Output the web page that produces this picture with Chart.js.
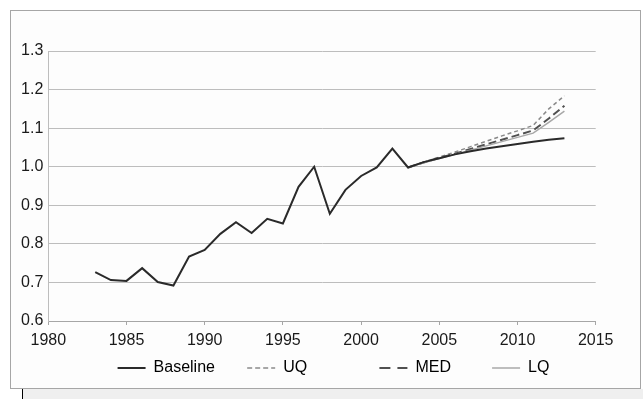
<!DOCTYPE html>
<html lang="en">
<head>
  <meta charset="UTF-8">
  <title>Baseline and projections</title>
  <style>
    html, body {
      margin: 0;
      padding: 0;
      background: #ffffff;
      width: 643px;
      height: 399px;
      overflow: hidden;
      position: relative;
    }
    .frame {
      position: absolute;
      left: 10px;
      top: 10px;
      width: 629px;
      height: 377px;
      border: 1px solid #a6a6a6;
      background: #fdfdfd;
    }
    .strip {
      position: absolute;
      left: 22px;
      top: 389px;
      width: 621px;
      height: 10px;
      background: #efefef;
      border-left: 1px solid #000;
    }
    canvas {
      display: block;
    }
  </style>
</head>
<body>
  <div class="frame">
    <canvas id="chart" width="629" height="377"></canvas>
  </div>
  <div class="strip"></div>

  <script src="https://cdn.jsdelivr.net/npm/chart.js"></script>
  <script>
    // values
    const baselineYears = [1983, 1984, 1985, 1986, 1987, 1988, 1989, 1990, 1991, 1992,
      1993, 1994, 1995, 1996, 1997, 1998, 1999, 2000, 2001, 2002,
      2003, 2004, 2005, 2006, 2007, 2008, 2009, 2010, 2011, 2012, 2013];
    const baseline = [0.727, 0.706, 0.704, 0.737, 0.701, 0.692, 0.767, 0.784, 0.826, 0.856,
      0.828, 0.865, 0.853, 0.948, 1.000, 0.878, 0.940, 0.976, 0.998, 1.047,
      0.998, 1.012, 1.022, 1.032, 1.040, 1.047, 1.053, 1.059, 1.065, 1.070, 1.074];

    const projYears = [2003, 2004, 2005, 2006, 2007, 2008, 2009, 2010, 2011, 2012, 2013];
    const uq  = [0.998, 1.012, 1.025, 1.038, 1.052, 1.066, 1.080, 1.093, 1.107, 1.150, 1.184];
    const med = [0.998, 1.011, 1.023, 1.034, 1.046, 1.058, 1.070, 1.082, 1.094, 1.125, 1.158];
    const lq  = [0.998, 1.010, 1.021, 1.032, 1.043, 1.054, 1.065, 1.076, 1.087, 1.115, 1.144];

    const xTicks = [1980, 1985, 1990, 1995, 2000, 2005, 2010, 2015];
    const yTicks = [0.6, 0.7, 0.8, 0.9, 1.0, 1.1, 1.2, 1.3];

    // trailing spaces widen the legend slots like the original
    const legendText = ['Baseline     ', 'UQ              ', 'MED       ', 'LQ'];

    function pts(xs, ys) {
      return xs.map((x, i) => ({ x: x, y: ys[i] }));
    }

    function line(label, xs, ys, color, width, dash, keyDash, order) {
      return {
        label: label,
        data: pts(xs, ys),
        borderColor: color,
        backgroundColor: color,
        borderWidth: width,
        borderDash: dash,
        keyDash: keyDash,
        pointRadius: 0,
        pointHoverRadius: 0,
        pointStyle: 'line',
        fill: false,
        tension: 0,
        order: order
      };
    }

    Chart.defaults.font.family = '"Liberation Sans", Arial, sans-serif';
    Chart.defaults.color = '#1a1a1a';

    new Chart(document.getElementById('chart').getContext('2d'), {
      type: 'line',
      data: {
        datasets: [
          line('Baseline', baselineYears, baseline, '#2a2a2a', 2, [], [], 0),
          line('UQ', projYears, uq, '#8a8a8a', 1.5, [4, 3], [5, 3], 3),
          line('MED', projYears, med, '#505050', 2, [8, 4], [11, 7], 2),
          line('LQ', projYears, lq, '#a8a8a8', 1.5, [], [], 1)
        ]
      },
      options: {
        responsive: false,
        animation: false,
        layout: { padding: { left: 10, right: -6, top: 40, bottom: 2 } },
        plugins: {
          tooltip: { enabled: false },
          legend: {
            position: 'bottom',
            labels: {
              usePointStyle: true,
              pointStyleWidth: 28,
              boxHeight: 2,
              padding: 10,
              font: { size: 16 },
              color: '#1a1a1a',
              generateLabels: (chart) => chart.data.datasets.map((ds, i) => ({
                text: legendText[i],
                datasetIndex: i,
                strokeStyle: ds.borderColor,
                fillStyle: ds.borderColor,
                lineWidth: ds.borderWidth,
                lineDash: ds.keyDash,
                pointStyle: 'line',
                hidden: !chart.isDatasetVisible(i)
              }))
            }
          }
        },
        scales: {
          x: {
            type: 'linear',
            min: 1980,
            max: 2015,
            afterBuildTicks: (scale) => { scale.ticks = xTicks.map(v => ({ value: v })); },
            afterFit: (scale) => { scale.height = 29; },
            ticks: {
              font: { size: 16 },
              padding: 6,
              maxRotation: 0,
              callback: (v) => String(v)
            },
            grid: { drawOnChartArea: false, drawTicks: true, tickLength: 4, color: '#a6a6a6' },
            border: { color: '#a6a6a6', width: 1 }
          },
          y: {
            min: 0.6,
            max: 1.3,
            afterBuildTicks: (scale) => { scale.ticks = yTicks.map(v => ({ value: v })); },
            afterFit: (scale) => { scale.width = 27.3; },
            ticks: {
              font: { size: 16 },
              padding: 5,
              callback: (v) => Number(v).toFixed(1)
            },
            grid: { color: '#bdbdbd', lineWidth: 1, drawTicks: false },
            border: { color: '#bdbdbd', width: 1 }
          },
          // empty right-hand box keeping the plot clear of the frame
          yRight: {
            position: 'right',
            display: true,
            afterFit: (scale) => { scale.width = 50.3; },
            ticks: { display: false },
            grid: { display: false },
            border: { display: false }
          }
        }
      }
    });
  </script>
</body>
</html>
